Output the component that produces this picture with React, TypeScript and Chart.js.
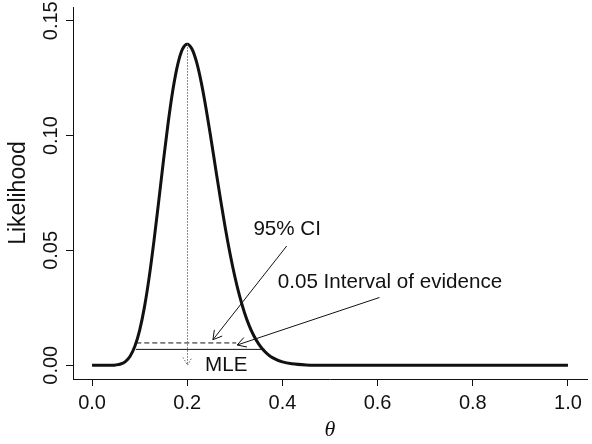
import { useEffect, useRef } from "react";
import { Chart, registerables } from "chart.js";

Chart.register(...registerables);

// Likelihood curve (theta vs likelihood)
const theta = [
  0, 0.02, 0.04, 0.05, 0.06, 0.07, 0.08, 0.09, 0.1, 0.11, 0.12, 0.13, 0.14,
  0.15, 0.16, 0.17, 0.18, 0.19, 0.2, 0.21, 0.22, 0.23, 0.24, 0.25, 0.26, 0.27,
  0.28, 0.29, 0.3, 0.31, 0.32, 0.33, 0.34, 0.35, 0.36, 0.37, 0.38, 0.4, 0.42,
  0.45, 0.5, 0.6, 0.7, 0.8, 0.9, 1.0,
];
const likelihood = [
  0, 0.0000001, 0.000021, 0.000129, 0.000522, 0.001591, 0.003925, 0.008236,
  0.015183, 0.02519, 0.038254, 0.053929, 0.071245, 0.088981, 0.105678,
  0.120029, 0.13091, 0.137607, 0.139826, 0.13771, 0.131735, 0.122624,
  0.111258, 0.098527, 0.085252, 0.072148, 0.059776, 0.048534, 0.038624,
  0.030152, 0.023095, 0.017371, 0.012831, 0.009308, 0.006636, 0.004648,
  0.0032, 0.00144, 0.000605, 0.000144, 0.000009, 0, 0, 0, 0, 0,
];

const xTickValues = [0, 0.2, 0.4, 0.6, 0.8, 1.0];
const xTickLabels = ["0.0", "0.2", "0.4", "0.6", "0.8", "1.0"];
const yTickValues = [0, 0.05, 0.1, 0.15];
const yTickLabels = ["0.00", "0.05", "0.10", "0.15"];

const mleTheta = 0.2;
const mleLikelihood = 0.1398;
const ciBounds = [0.093, 0.303];
const ciLevel = 0.0097;
const evidenceBounds = [0.092, 0.363];
const evidenceLevel = 0.0069;

const labelTexts = ["95% CI", "0.05 Interval of evidence", "MLE"];
const labelX = [0.41, 0.626, 0.282];
const labelY = [0.0593, 0.036, 0.0];

const arrowFromX = [0.409, 0.604];
const arrowFromY = [0.0519, 0.0295];
const arrowToX = [0.254, 0.305];
const arrowToY = [0.0111, 0.0088];

const FONT = "'Liberation Sans', Arial, Helvetica, sans-serif";
const INK = "#111";

function drawArrow(
  ctx: CanvasRenderingContext2D,
  x0: number,
  y0: number,
  x1: number,
  y1: number,
  len: number,
  color: string,
  dash: number[]
) {
  ctx.save();
  ctx.strokeStyle = color;
  ctx.lineWidth = 1;
  ctx.setLineDash(dash);
  ctx.beginPath();
  ctx.moveTo(x0, y0);
  ctx.lineTo(x1, y1);
  ctx.stroke();
  const ang = Math.atan2(y1 - y0, x1 - x0);
  ctx.beginPath();
  ctx.moveTo(x1 - len * Math.cos(ang - Math.PI / 6), y1 - len * Math.sin(ang - Math.PI / 6));
  ctx.lineTo(x1, y1);
  ctx.lineTo(x1 - len * Math.cos(ang + Math.PI / 6), y1 - len * Math.sin(ang + Math.PI / 6));
  ctx.stroke();
  ctx.restore();
}

export default function App() {
  const ref = useRef<HTMLCanvasElement>(null);

  useEffect(() => {
    const canvas = ref.current;
    if (!canvas) return;

    const annotations = {
      id: "annotations",
      afterDatasetsDraw(chart: any) {
        const { ctx, scales } = chart;
        const x = scales.x;
        const y = scales.y;
        const mx = Math.round(x.getPixelForValue(mleTheta)) + 0.5;
        drawArrow(
          ctx,
          mx,
          y.getPixelForValue(mleLikelihood),
          mx,
          y.getPixelForValue(0),
          9,
          "#666",
          [1.5, 1.5]
        );
        for (let i = 0; i < arrowFromX.length; i++) {
          drawArrow(
            ctx,
            x.getPixelForValue(arrowFromX[i]),
            y.getPixelForValue(arrowFromY[i]),
            x.getPixelForValue(arrowToX[i]),
            y.getPixelForValue(arrowToY[i]),
            10,
            INK,
            []
          );
        }
        ctx.save();
        ctx.fillStyle = INK;
        ctx.font = `20.6px ${FONT}`;
        ctx.textAlign = "center";
        ctx.textBaseline = "middle";
        for (let i = 0; i < labelTexts.length; i++) {
          ctx.fillText(labelTexts[i], x.getPixelForValue(labelX[i]), y.getPixelForValue(labelY[i]));
        }
        ctx.restore();
      },
      afterDraw(chart: any) {
        const { ctx, scales } = chart;
        const y = scales.y;
        ctx.save();
        ctx.fillStyle = INK;
        ctx.font = `20px ${FONT}`;
        ctx.textAlign = "center";
        ctx.textBaseline = "middle";
        yTickValues.forEach((v, i) => {
          const py = y.getPixelForValue(v);
          ctx.save();
          ctx.translate(51, py);
          ctx.rotate(-Math.PI / 2);
          ctx.fillText(yTickLabels[i], 0, 0);
          ctx.restore();
        });
        ctx.restore();
      },
    };

    const hline = (a: number[], level: number) => {
      return [
        { x: a[0], y: level },
        { x: a[1], y: level },
      ];
    };

    const chart = new Chart(canvas, {
      type: "line",
      data: {
        datasets: [
          {
            data: theta.map((t, i) => ({ x: t, y: likelihood[i] })),
            borderColor: INK,
            borderWidth: 3,
            pointRadius: 0,
            fill: false,
            cubicInterpolationMode: "monotone",
          },
          {
            data: hline(ciBounds, ciLevel),
            borderColor: INK,
            borderWidth: 1,
            borderDash: [5, 3],
            pointRadius: 0,
            fill: false,
          },
          {
            data: hline(evidenceBounds, evidenceLevel),
            borderColor: INK,
            borderWidth: 1,
            pointRadius: 0,
            fill: false,
          },
        ],
      },
      options: {
        animation: false,
        responsive: false,
        events: [],
        layout: { padding: { left: 0, right: 5, top: 7, bottom: 0 } },
        plugins: {
          legend: { display: false },
          tooltip: { enabled: false },
        },
        scales: {
          x: {
            type: "linear",
            min: -0.04,
            max: 1.04,
            afterBuildTicks: (s: any) => {
              s.ticks = xTickValues.map((value) => ({ value }));
            },
            afterFit: (s: any) => {
              s.height = 65;
            },
            border: { display: true, color: INK, width: 1 },
            grid: {
              display: true,
              drawOnChartArea: false,
              drawTicks: true,
              tickLength: 7,
              color: INK,
            },
            ticks: {
              autoSkip: false,
              maxRotation: 0,
              minRotation: 0,
              padding: 5,
              color: INK,
              font: { family: FONT, size: 20 },
              callback: (_v: any, i: number) => xTickLabels[i],
            },
            title: {
              display: true,
              text: "θ",
              color: INK,
              font: { family: "'Liberation Serif', 'DejaVu Serif', serif", style: "italic", size: 22 },
              padding: { top: 0, bottom: 1 },
            },
          },
          y: {
            type: "linear",
            min: -0.006,
            max: 0.156,
            afterBuildTicks: (s: any) => {
              s.ticks = yTickValues.map((value) => ({ value }));
            },
            afterFit: (s: any) => {
              s.width = 73;
            },
            border: { display: true, color: INK, width: 1 },
            grid: {
              display: true,
              drawOnChartArea: false,
              drawTicks: true,
              tickLength: 7,
              color: INK,
            },
            ticks: { display: false },
            title: {
              display: true,
              text: "Likelihood",
              color: INK,
              font: { family: FONT, size: 23 },
              padding: { top: 5, bottom: 0 },
            },
          },
        },
      },
      plugins: [annotations],
    } as any);

    return () => chart.destroy();
  }, []);

  return (
    <div style={{ position: "fixed", left: 0, top: 0, width: 592, height: 444, background: "#fff" }}>
      <canvas ref={ref} width={592} height={444} style={{ display: "block" }} />
    </div>
  );
}
